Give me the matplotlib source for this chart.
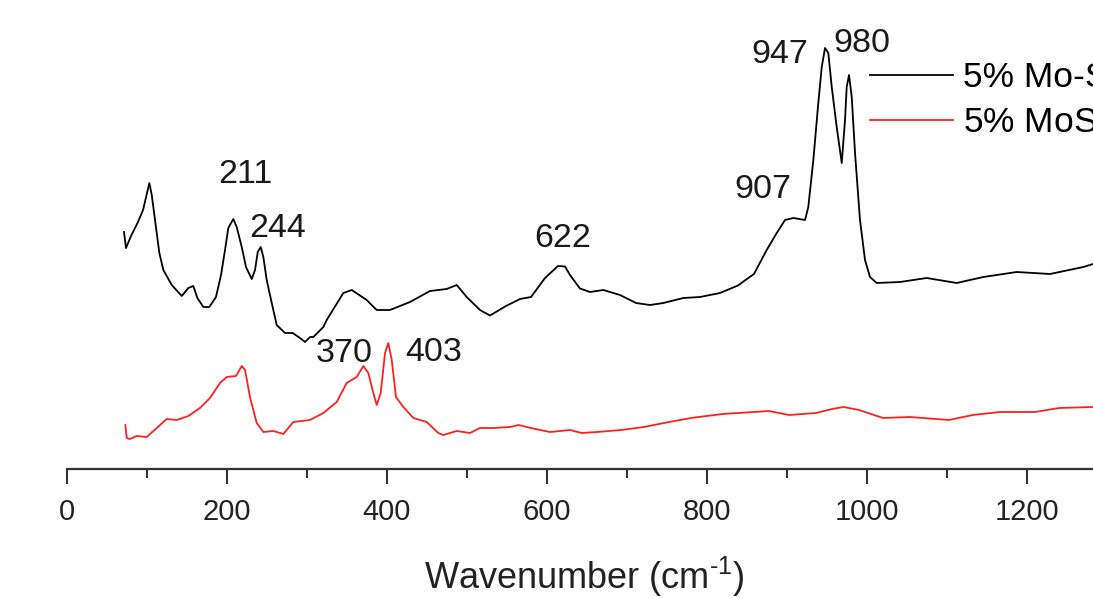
import matplotlib
matplotlib.use("Agg")
import matplotlib.pyplot as plt
from matplotlib.ticker import MultipleLocator

plt.rcParams['font.family'] = ['Liberation Sans', 'DejaVu Sans']
plt.rcParams['mathtext.fontset'] = 'custom'
plt.rcParams['mathtext.rm'] = 'Liberation Sans'
plt.rcParams['mathtext.it'] = 'Liberation Sans:italic'

# ---- data (intensity in arbitrary units) ----
black_x = [71.6, 74.1, 80.4, 89.1, 95.4, 100.4, 103.3, 106.3, 110.4, 115.8, 120.8,
           131.3, 143.8, 152.0, 158.3, 163.3, 170.8, 178.3, 186.6, 192.9, 197.9,
           202.0, 208.3, 212.5, 218.8, 224.1, 231.3, 235.4, 238.8, 242.5, 245.8,
           250.0, 256.3, 262.5, 272.9, 282.5, 291.6, 297.9, 304.1, 308.3, 320.8,
           325.0, 345.8, 356.3, 375.0, 387.5, 404.1, 429.1, 454.1, 475.0, 487.5,
           500.0, 516.6, 529.1, 549.1, 566.6, 580.4, 597.9, 614.1, 622.9, 629.1,
           641.6, 654.1, 670.8, 691.6, 711.6, 729.1, 745.8, 770.8, 791.6, 816.6,
           839.1, 852.0, 859.1, 875.0, 887.5, 897.9, 908.3, 922.9, 927.0, 933.3,
           939.5, 943.8, 947.9, 952.0, 956.3, 962.5, 968.8, 972.9, 975.0, 977.9,
           981.3, 985.4, 991.6, 997.9, 1004.1, 1012.5, 1041.6, 1075.0, 1112.5,
           1145.8, 1187.5, 1229.1, 1270.8, 1282.9]
black_y = [237, 221, 233, 247, 259, 276, 286, 274, 249, 216, 199,
           184, 173, 181, 183, 171, 162, 162, 172, 194, 219,
           241, 250, 242, 222, 202, 190, 199, 217, 222, 212,
           189, 166, 144, 136, 136, 131, 127, 132, 132, 142,
           149, 176, 179, 169, 159, 159, 167, 178, 180, 184,
           172, 159, 153.5, 163, 170, 172, 191, 203, 202.5, 194,
           180.5, 177, 179, 174, 166, 164, 166, 171, 172, 176,
           183.5, 191, 195, 219, 236, 249, 251, 249, 262, 309,
           366, 402, 421, 416, 382, 342, 306, 349, 382, 394,
           372, 316, 249, 209, 192, 186, 187, 191, 186,
           192, 197, 195, 202, 205]

red_x = [73.3, 75.0, 79.1, 87.5, 100.0, 112.5, 125.0, 137.5, 152.0, 166.6, 179.1,
         191.6, 200.0, 211.6, 218.8, 222.9, 229.1, 237.5, 245.8, 258.3, 270.8,
         283.3, 304.1, 320.8, 337.5, 350.0, 362.5, 370.8, 377.0, 383.3, 387.5,
         392.5, 397.9, 402.0, 406.3, 411.6, 420.8, 433.3, 450.0, 464.5, 470.8,
         487.5, 504.1, 516.6, 533.3, 554.1, 565.0, 580.0, 604.0, 629.0, 643.8,
         662.9, 692.9, 721.6, 746.6, 780.4, 819.8, 858.9, 877.9, 902.9, 936.6,
         956.6, 971.3, 990.4, 1020.4, 1054.1, 1102.9, 1132.6, 1166.6, 1210.4,
         1240.4, 1282.9]
red_y = [44, 31, 30, 33, 32, 41, 50, 49, 53, 61, 71,
         86, 92, 93, 103, 99, 72, 46, 37, 38, 35,
         47, 49, 56, 67, 86, 92, 103, 96, 76, 64,
         76, 116, 126, 109, 72, 62, 51, 47, 36, 34,
         38, 36, 41, 41, 42, 44, 41, 37, 39, 36,
         37, 39, 42, 46, 51, 55, 57, 58, 54, 56,
         60, 62, 59, 51, 52, 49, 54, 57, 57,
         61, 62]

series_labels = ["5% Mo-SBA-15", "5% MoS$_2$/SBA-15"]

peak_labels = ["211", "244", "622", "907", "947", "980", "370", "403"]
peak_label_x = [222.9, 264.0, 620.4, 870.0, 891.6, 994.0, 346.6, 459.1]
peak_label_y = [286, 232, 222, 271, 406, 417, 107, 108]

xticks = [0, 200, 400, 600, 800, 1000, 1200]

# ---- figure ----
W, H = 1093, 598
fig = plt.figure(figsize=(W / 100, H / 100), dpi=100)
left_px, axis_px = 66.7, 469.0
ax = fig.add_axes([left_px / W, (H - axis_px) / H, 1 - left_px / W, axis_px / H])

ax.plot(black_x, black_y, color='black', lw=1.3, label=series_labels[0])
ax.plot(red_x, red_y, color='#ff2020', lw=1.3, label=series_labels[1])

ax.set_xlim(0, (W - left_px) / 0.8)
ax.set_ylim(0, axis_px)

for s in ['left', 'right', 'top']:
    ax.spines[s].set_visible(False)
ax.spines['bottom'].set_linewidth(1.6)
ax.spines['bottom'].set_color('#333333')
ax.set_yticks([])
ax.set_xticks(xticks)
ax.xaxis.set_minor_locator(MultipleLocator(100))
ax.tick_params(axis='x', which='major', direction='out', length=10.8, width=1.5,
               color='#333333', labelsize=21, pad=10, labelcolor='#222222')
ax.tick_params(axis='x', which='minor', direction='out', length=6.5, width=1.5,
               color='#333333')

ax.set_xlabel("Wavenumber (cm$^{\\text{-1}}$)", fontsize=26, color='#222222')
ax.xaxis.set_label_coords(0.5044, -0.183)

for t, x, y in zip(peak_labels, peak_label_x, peak_label_y):
    ax.text(x, y, t, ha='center', va='baseline', fontsize=24.5, color='#1a1a1a')

leg = ax.legend(loc='upper left', bbox_to_anchor=(870 / W, 1 - 61 / H),
                bbox_transform=fig.transFigure, frameon=False, fontsize=25.5,
                handlelength=2.35, handletextpad=0.28, labelspacing=0.3,
                borderpad=0, borderaxespad=0)

fig.savefig("out.png", dpi=100)
